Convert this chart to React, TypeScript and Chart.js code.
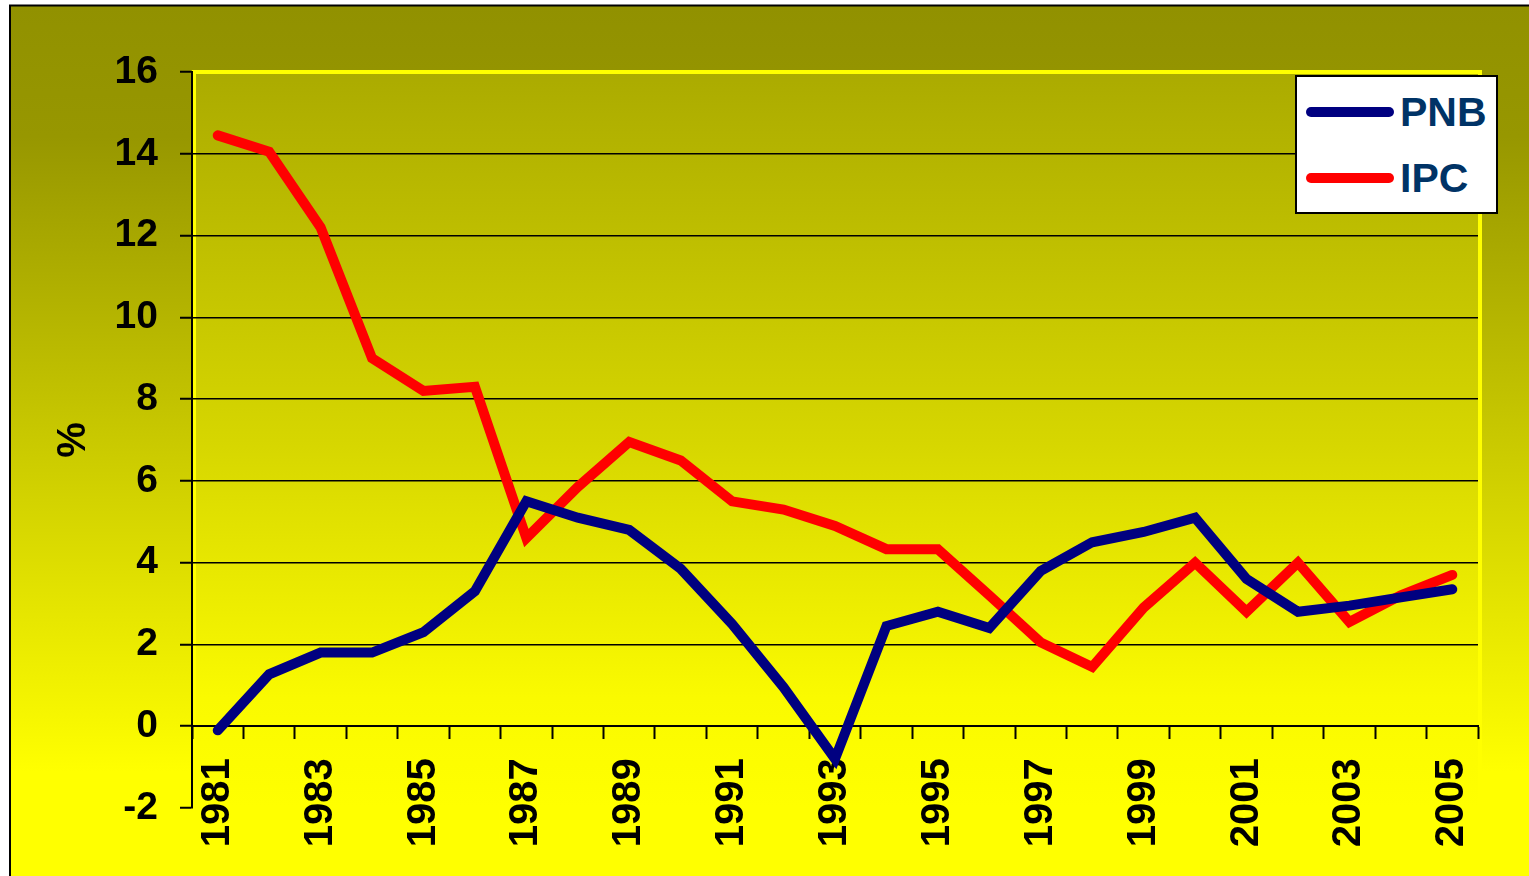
import React, { useEffect, useRef } from "react";
import { Chart, registerables } from "chart.js";

Chart.register(...registerables);

const years = [
  "1981", "1982", "1983", "1984", "1985", "1986", "1987", "1988", "1989", "1990",
  "1991", "1992", "1993", "1994", "1995", "1996", "1997", "1998", "1999", "2000",
  "2001", "2002", "2003", "2004", "2005",
];
const pnbValues = [
  -0.1, 1.27, 1.8, 1.8, 2.3, 3.3, 5.5, 5.1, 4.8, 3.85,
  2.5, 0.95, -0.8, 2.45, 2.8, 2.4, 3.8, 4.5, 4.75, 5.1,
  3.6, 2.8, 2.95, 3.15, 3.35,
];
const ipcValues = [
  14.45, 14.05, 12.2, 9.0, 8.2, 8.3, 4.6, 5.85, 6.95, 6.5,
  5.5, 5.3, 4.9, 4.33, 4.33, 3.2, 2.05, 1.45, 2.9, 4.0,
  2.8, 4.0, 2.55, 3.2, 3.7,
];
const seriesNames = ["PNB", "IPC"];
const seriesColors = ["#000080", "#ff0000"];
const yTitle = "%";

const FONT = "'Liberation Sans', Arial, sans-serif";

const backgroundPlugin = {
  id: "bgPlugin",
  beforeDraw(chart: any) {
    const { ctx, width, height, chartArea } = chart;
    ctx.save();
    ctx.fillStyle = "#ffffff";
    ctx.fillRect(0, 0, width, height);
    // outer gradient
    const g = ctx.createLinearGradient(0, 6, 0, height);
    g.addColorStop(0, "#919100");
    g.addColorStop(0.15, "#979700");
    g.addColorStop(0.45, "#c2c200");
    g.addColorStop(0.7, "#e6e600");
    g.addColorStop(0.88, "#ffff00");
    g.addColorStop(1, "#ffff00");
    ctx.fillStyle = g;
    ctx.fillRect(10, 6, width - 10, height - 6);
    ctx.strokeStyle = "#000000";
    ctx.lineWidth = 2;
    ctx.beginPath();
    ctx.moveTo(10, height + 2);
    ctx.lineTo(10, 5.5);
    ctx.lineTo(width + 2, 5.5);
    ctx.stroke();
    // plot area gradient
    const { left, right, top, bottom } = chartArea;
    const pg = ctx.createLinearGradient(0, top, 0, bottom);
    pg.addColorStop(0, "#abab00");
    pg.addColorStop(0.5, "#d6d600");
    pg.addColorStop(0.85, "#fafa00");
    pg.addColorStop(1, "#ffff00");
    ctx.fillStyle = pg;
    ctx.fillRect(left, top, right - left, bottom - top);
    // yellow plot border
    ctx.strokeStyle = "#ffff00";
    ctx.lineWidth = 4;
    ctx.beginPath();
    ctx.moveTo(left, top);
    ctx.lineTo(right + 4, top);
    ctx.stroke();
    ctx.beginPath();
    ctx.moveTo(right + 2, top);
    ctx.lineTo(right + 2, bottom);
    ctx.stroke();
    ctx.lineWidth = 3;
    ctx.beginPath();
    ctx.moveTo(left + 2.5, top);
    ctx.lineTo(left + 2.5, bottom);
    ctx.stroke();
    ctx.restore();
  },
};

export default function App() {
  const canvasRef = useRef<HTMLCanvasElement | null>(null);

  useEffect(() => {
    const canvas = canvasRef.current;
    if (!canvas) return;
    const chart = new Chart(canvas, {
      type: "line",
      data: {
        labels: years,
        datasets: [
          {
            label: seriesNames[0],
            data: pnbValues,
            borderColor: seriesColors[0],
            backgroundColor: seriesColors[0],
            borderWidth: 10,
            pointRadius: 0,
            borderCapStyle: "round",
            borderJoinStyle: "miter",
            tension: 0,
          },
          {
            label: seriesNames[1],
            data: ipcValues,
            borderColor: seriesColors[1],
            backgroundColor: seriesColors[1],
            borderWidth: 10,
            pointRadius: 0,
            borderCapStyle: "round",
            borderJoinStyle: "miter",
            tension: 0,
          },
        ],
      },
      options: {
        animation: false,
        responsive: false,
        devicePixelRatio: 1,
        layout: { padding: { left: 40, right: 51, top: 72, bottom: 68 } },
        plugins: {
          legend: { display: false },
          tooltip: { enabled: false },
        },
        scales: {
          x: {
            type: "category",
            position: { y: 0 } as any,
            offset: true,
            grid: {
              offset: true,
              display: true,
              drawOnChartArea: false,
              drawTicks: true,
              tickLength: 12,
              tickColor: "#000000",
              tickWidth: 2,
            },
            border: { display: true, color: "#000000", width: 2 },
            ticks: {
              autoSkip: false,
              minRotation: 90,
              maxRotation: 90,
              padding: 20,
              color: "#000000",
              font: { family: FONT, size: 40, weight: "bold" },
              callback: (_v: any, i: number) => (i % 2 === 0 ? years[i] : ""),
            },
          },
          y: {
            min: -2,
            max: 16,
            afterFit: (scale: any) => {
              scale.width = 152;
            },
            grid: {
              color: (ctx: any) =>
                ctx.tick && (ctx.tick.value === 16 || ctx.tick.value === -2)
                  ? "rgba(0,0,0,0)"
                  : "#000000",
              lineWidth: 1.5,
              drawTicks: true,
              tickLength: 12,
              tickColor: "#000000",
              tickWidth: 2,
            },
            border: { display: true, color: "#000000", width: 2 },
            ticks: {
              stepSize: 2,
              padding: 22,
              color: "#000000",
              font: { family: FONT, size: 39, weight: "bold" },
            },
            title: {
              display: true,
              text: yTitle,
              color: "#000000",
              padding: { top: 10, bottom: 0 },
              font: { family: FONT, size: 40, weight: "bold" },
            },
          },
        },
      },
      plugins: [backgroundPlugin],
    });
    return () => chart.destroy();
  }, []);

  const legendRow = (name: string, color: string) => (
    <div
      key={name}
      style={{ display: "flex", alignItems: "center", height: 66 }}
    >
      <div
        style={{
          width: 88,
          height: 10,
          borderRadius: 5,
          background: color,
          marginLeft: 9,
          marginRight: 6,
        }}
      />
      <span
        style={{
          fontFamily: FONT,
          fontWeight: "bold",
          fontSize: 41,
          color: "#003366",
          lineHeight: "41px",
        }}
      >
        {name}
      </span>
    </div>
  );

  return (
    <div
      style={{
        position: "absolute",
        left: 0,
        top: 0,
        width: 1529,
        height: 876,
        overflow: "hidden",
      }}
    >
      <canvas ref={canvasRef} width={1529} height={876} style={{ display: "block" }} />
      <div
        style={{
          position: "absolute",
          left: 1295,
          top: 75,
          width: 199,
          height: 133,
          background: "#ffffff",
          border: "2px solid #000000",
          boxSizing: "content-box",
          paddingTop: 2,
        }}
      >
        {seriesNames.map((n, i) => legendRow(n, seriesColors[i]))}
      </div>
    </div>
  );
}
